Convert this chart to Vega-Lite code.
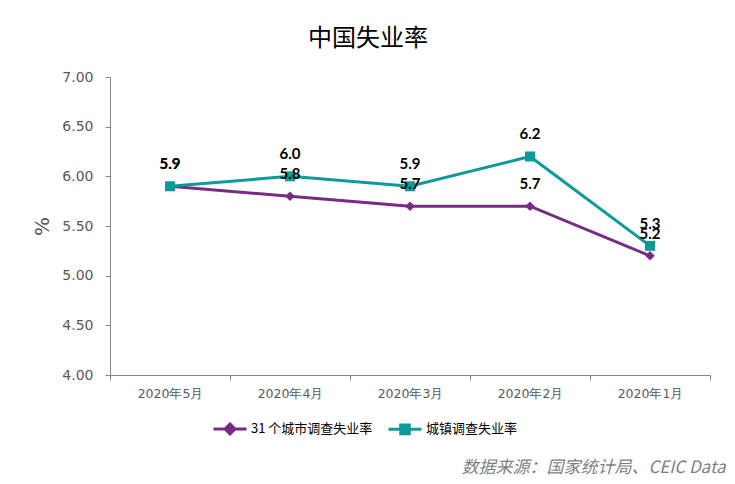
{
  "$schema": "https://vega.github.io/schema/vega-lite/v6.json",
  "autosize": {"type": "none"},
  "width": 600,
  "height": 298,
  "padding": {"left": 110, "top": 77, "right": 25, "bottom": 109},
  "background": "white",
  "config": {"view": {"stroke": null}, "font": "Noto Sans CJK SC"},
  "title": {
    "text": "中国失业率",
    "font": "Noto Sans CJK SC",
    "fontSize": 24,
    "fontWeight": "normal",
    "color": "#000000",
    "anchor": "middle",
    "frame": "group",
    "dx": -42,
    "offset": 19
  },
  "data": {
    "values": [
      {"month": "2020年5月", "series": "31 个城市调查失业率", "rate": 5.9},
      {"month": "2020年4月", "series": "31 个城市调查失业率", "rate": 5.8},
      {"month": "2020年3月", "series": "31 个城市调查失业率", "rate": 5.7},
      {"month": "2020年2月", "series": "31 个城市调查失业率", "rate": 5.7},
      {"month": "2020年1月", "series": "31 个城市调查失业率", "rate": 5.2},
      {"month": "2020年5月", "series": "城镇调查失业率", "rate": 5.9},
      {"month": "2020年4月", "series": "城镇调查失业率", "rate": 6.0},
      {"month": "2020年3月", "series": "城镇调查失业率", "rate": 5.9},
      {"month": "2020年2月", "series": "城镇调查失业率", "rate": 6.2},
      {"month": "2020年1月", "series": "城镇调查失业率", "rate": 5.3}
    ]
  },
  "encoding": {
    "x": {
      "field": "month",
      "type": "nominal",
      "sort": ["2020年5月", "2020年4月", "2020年3月", "2020年2月", "2020年1月"],
      "scale": {"type": "band", "paddingInner": 0, "paddingOuter": 0},
      "axis": {
        "title": "数据来源：国家统计局、CEIC Data",
        "titleFont": "Noto Sans CJK SC",
        "titleFontStyle": "italic",
        "titleFontWeight": "normal",
        "titleFontSize": 17,
        "titleColor": "#7f7f7f",
        "titleAlign": "right",
        "titleBaseline": "middle",
        "titleAnchor": "end",
        "titleX": 615,
        "titleY": 92,
        "labelAngle": 0,
        "labelFont": "DejaVu Sans",
        "labelFontSize": 12.5,
        "labelColor": "#595959",
        "labelPadding": 7,
        "tickBand": "extent",
        "tickSize": 5,
        "tickColor": "#868686",
        "domainColor": "#868686",
        "grid": false
      }
    },
    "y": {
      "field": "rate",
      "type": "quantitative",
      "scale": {"domain": [4, 7], "nice": false, "zero": false},
      "axis": {
        "title": "%",
        "titleFont": "DejaVu Sans",
        "titleFontSize": 20,
        "titleFontWeight": "normal",
        "titleColor": "#595959",
        "titleX": -68,
        "titleY": 149,
        "titleAlign": "center",
        "titleBaseline": "middle",
        "values": [4, 4.5, 5, 5.5, 6, 6.5, 7],
        "format": ".2f",
        "labelFont": "DejaVu Sans",
        "labelFontSize": 14,
        "labelColor": "#595959",
        "labelPadding": 12,
        "tickSize": 5,
        "tickColor": "#868686",
        "domainColor": "#868686",
        "grid": false
      }
    }
  },
  "layer": [
    {
      "mark": {"type": "line", "strokeWidth": 3},
      "encoding": {
        "color": {
          "field": "series",
          "type": "nominal",
          "scale": {"domain": ["31 个城市调查失业率", "城镇调查失业率"], "range": ["#772B83", "#0E9A96"]},
          "legend": {
            "title": null,
            "orient": "none",
            "legendX": 102,
            "legendY": 334,
            "direction": "horizontal",
            "labelFont": "Noto Sans CJK SC",
            "labelFontSize": 13,
            "labelColor": "#000000",
            "labelOffset": 3,
            "columnPadding": 9,
            "symbolSize": 1089,
            "symbolStrokeWidth": 3,
            "encode": {
              "symbols": {
                "update": {
                  "shape": {"signal": "datum.value === '城镇调查失业率' ? 'M-1,0L1,0M-0.26,-0.26L0.26,-0.26L0.26,0.26L-0.26,0.26Z' : 'M-1,0L1,0M0,-0.3L0.3,0L0,0.3L-0.3,0Z'"},
                  "fill": {"signal": "datum.value === '城镇调查失业率' ? '#0E9A96' : '#772B83'"},
                  "stroke": {"signal": "datum.value === '城镇调查失业率' ? '#0E9A96' : '#772B83'"},
                  "strokeWidth": {"value": 3},
                  "size": {"value": 1089}
                }
              }
            }
          }
        }
      }
    },
    {
      "transform": [{"filter": "datum.series === '31 个城市调查失业率'"}],
      "mark": {"type": "point", "filled": true, "opacity": 1, "strokeWidth": 0, "shape": "diamond", "size": 90, "color": "#772B83"}
    },
    {
      "transform": [{"filter": "datum.series === '城镇调查失业率'"}],
      "mark": {"type": "point", "filled": true, "opacity": 1, "strokeWidth": 0, "shape": "square", "size": 100, "color": "#0E9A96"}
    },
    {
      "mark": {"type": "text", "dy": -22, "font": "Lato", "fontWeight": "bold", "fontSize": 15, "color": "#000000"},
      "encoding": {
        "text": {"field": "rate", "type": "quantitative", "format": ".1f"}
      }
    }
  ]
}
